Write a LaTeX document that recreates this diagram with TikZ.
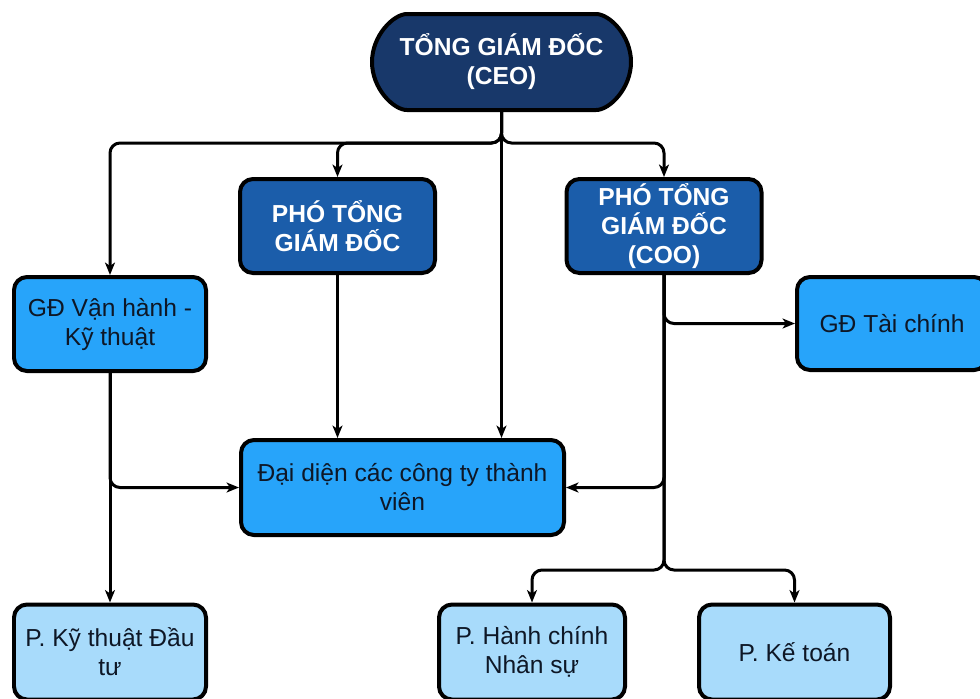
\documentclass[tikz,border=0pt]{standalone}
\usepackage{fontspec}
\setmainfont{Liberation Sans}
\usetikzlibrary{shapes.misc,arrows.meta}
\definecolor{ceoblue}{HTML}{18386A}
\definecolor{vpblue}{HTML}{1B5DAA}
\definecolor{midblue}{HTML}{27A4FA}
\definecolor{lightblue}{HTML}{A8DBFB}
\definecolor{darktext}{HTML}{0E1726}
\tikzset{
  box/.style={draw=black, line width=0.08cm, rounded corners=0.26cm, align=center,
    inner sep=0pt, font=\fontsize{14pt}{16.5pt}\selectfont},
  ceobox/.style={box, rounded rectangle, fill=ceoblue, text=white,
    font=\fontsize{14pt}{16.5pt}\selectfont\bfseries},
  vpbox/.style={box, fill=vpblue, text=white, font=\fontsize{14pt}{16.5pt}\selectfont\bfseries},
  midbox/.style={box, fill=midblue, text=darktext},
  lightbox/.style={box, fill=lightblue, text=darktext},
  conn/.style={draw=black, line width=0.06cm, rounded corners=0.2cm,
    -{Stealth[length=0.25cm, width=0.2cm, inset=0.07cm]}}
}
\begin{document}
\begin{tikzpicture}[x=0.02cm, y=-0.02cm]
\clip (0,0) rectangle (980,698);
\fill[white] (0,0) rectangle (980,698);

\node[ceobox, minimum width=259*0.02cm, minimum height=96*0.02cm] (ceo) at (501.5,62)
  {TỔNG GIÁM ĐỐC\\(CEO)};
\node[vpbox, minimum width=195*0.02cm, minimum height=94*0.02cm] (p1) at (337.5,226)
  {PHÓ TỔNG\\GIÁM ĐỐC};
\node[vpbox, minimum width=195*0.02cm, minimum height=94*0.02cm] (coo) at (664,226)
  {PHÓ TỔNG\\GIÁM ĐỐC\\(COO)};
\node[midbox, minimum width=192*0.02cm, minimum height=94*0.02cm] (vh) at (110,324)
  {GĐ Vận hành -\\Kỹ thuật};
\node[midbox, minimum width=190*0.02cm, minimum height=93*0.02cm] (tc) at (892,323.5)
  {GĐ Tài chính};
\node[midbox, minimum width=323*0.02cm, minimum height=95*0.02cm] (dd) at (402.5,487.5)
  {Đại diện các công ty thành\\viên};
\node[lightbox, minimum width=192*0.02cm, minimum height=95*0.02cm] (kt) at (110,652)
  {P. Kỹ thuật Đầu\\tư};
\node[lightbox, minimum width=186*0.02cm, minimum height=95*0.02cm] (hc) at (532,652)
  {P. Hành chính\\Nhân sự};
\node[lightbox, minimum width=191*0.02cm, minimum height=95*0.02cm] (kto) at (794.5,652)
  {P. Kế toán};

\coordinate (bus) at (501.5,143);
\coordinate (split) at (664,570);

\draw[conn] (ceo.south) -- (bus) -| (vh.north);
\draw[conn] (ceo.south) -- (bus) -| (p1.north);
\draw[conn] (ceo.south) -- (ceo.south |- dd.north);
\draw[conn] (ceo.south) -- (bus) -| (coo.north);
\draw[conn] (p1.south) -- (p1.south |- dd.north);
\draw[conn] (vh.south) -- (kt.north);
\draw[conn] (vh.south) |- (dd.west);
\draw[conn] (coo.south) |- (tc.west);
\draw[conn] (coo.south) |- (dd.east);
\draw[conn] (coo.south) -- (split) -| (hc.north);
\draw[conn] (coo.south) -- (split) -| (kto.north);
\end{tikzpicture}
\end{document}
